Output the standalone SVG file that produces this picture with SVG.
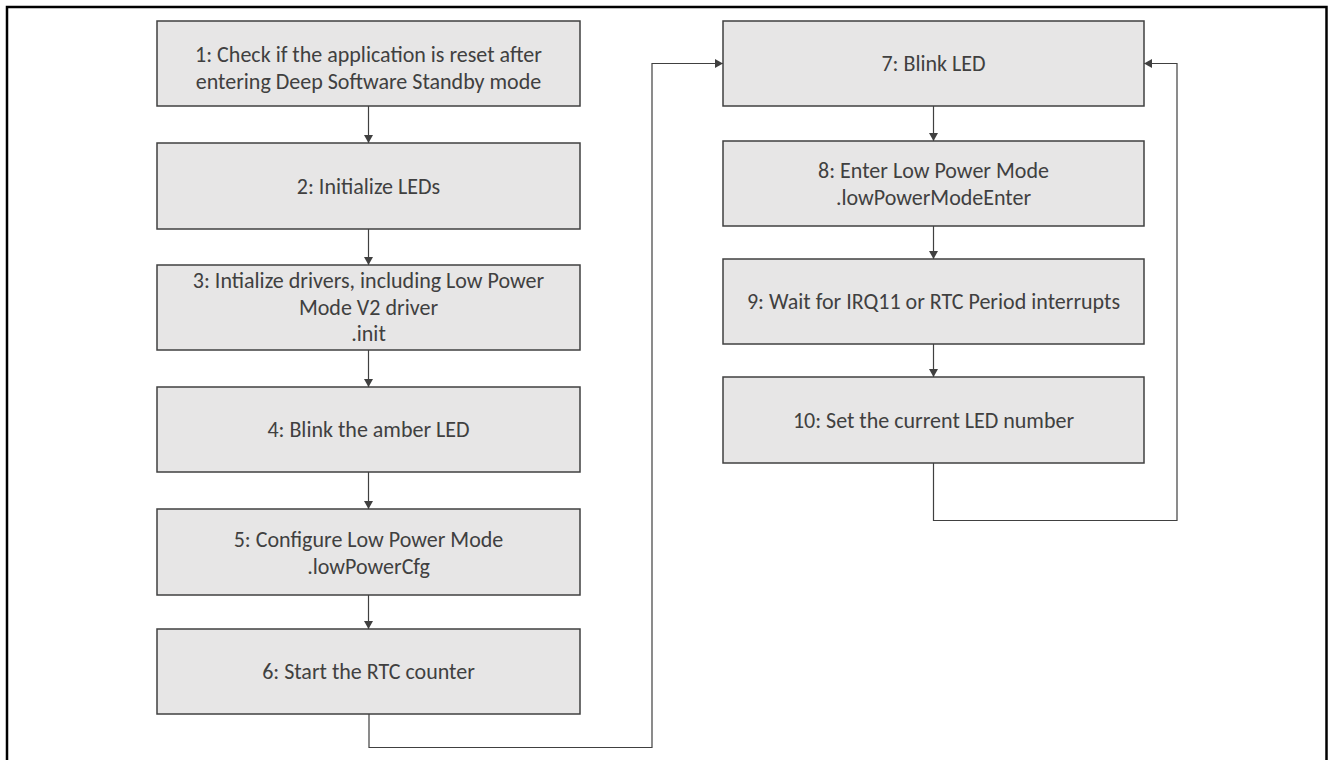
<svg xmlns="http://www.w3.org/2000/svg" width="1328" height="760" viewBox="0 0 1328 760">
<style>
.box{fill:#e7e6e6;stroke:#404040;stroke-width:1.5}
.t{font-family:Carlito,Calibri,Lato,"Liberation Sans",sans-serif;font-size:22px;fill:#404040;text-anchor:middle}
.c{fill:none;stroke:#404040;stroke-width:1.2}
</style>
<defs>
<marker id="ah" markerUnits="userSpaceOnUse" markerWidth="10" markerHeight="10" refX="8" refY="4.5" orient="auto">
<path d="M0,0 L8,4.5 L0,9 Z" fill="#404040"/>
</marker>
</defs>
<rect width="1328" height="760" fill="#ffffff"/>
<path d="M7,760 V7 H1326.5 V760" fill="none" stroke="#000" stroke-width="2.5"/>
<g id="connectors">
<path class="c" d="M368.5,106 V143" marker-end="url(#ah)"/>
<path class="c" d="M368.5,229 V265" marker-end="url(#ah)"/>
<path class="c" d="M368.5,350 V387" marker-end="url(#ah)"/>
<path class="c" d="M368.5,472 V509" marker-end="url(#ah)"/>
<path class="c" d="M368.5,595 V629" marker-end="url(#ah)"/>
<path class="c" d="M369,714 V747.5 H652 V63.5 H723" marker-end="url(#ah)"/>
<path class="c" d="M933.5,106 V141" marker-end="url(#ah)"/>
<path class="c" d="M933.5,226 V259" marker-end="url(#ah)"/>
<path class="c" d="M933.5,344 V377" marker-end="url(#ah)"/>
<path class="c" d="M933.5,463 V520.5 H1177 V63.5 H1144" marker-end="url(#ah)"/>
</g>
<g id="n1"><rect class="box" x="157" y="21" width="423" height="85"/><text class="t" x="368.5" y="62">1: Check if the application is reset after</text><text class="t" x="368.5" y="89">entering Deep Software Standby mode</text></g>
<g id="n2"><rect class="box" x="157" y="143" width="423" height="86"/><text class="t" x="368.5" y="194">2: Initialize LEDs</text></g>
<g id="n3"><rect class="box" x="157" y="265" width="423" height="85"/><text class="t" x="368.5" y="288">3: Intialize drivers, including Low Power</text><text class="t" x="368.5" y="315">Mode V2 driver</text><text class="t" x="368.5" y="341">.init</text></g>
<g id="n4"><rect class="box" x="157" y="387" width="423" height="85"/><text class="t" x="368.5" y="437">4: Blink the amber LED</text></g>
<g id="n5"><rect class="box" x="157" y="509" width="423" height="86"/><text class="t" x="368.5" y="547">5: Configure Low Power Mode</text><text class="t" x="368.5" y="574">.lowPowerCfg</text></g>
<g id="n6"><rect class="box" x="157" y="629" width="423" height="85"/><text class="t" x="368.5" y="679">6: Start the RTC counter</text></g>
<g id="n7"><rect class="box" x="723" y="21" width="421" height="85"/><text class="t" x="933.5" y="71">7: Blink LED</text></g>
<g id="n8"><rect class="box" x="723" y="141" width="421" height="85"/><text class="t" x="933.5" y="178">8: Enter Low Power Mode</text><text class="t" x="933.5" y="205">.lowPowerModeEnter</text></g>
<g id="n9"><rect class="box" x="723" y="259" width="421" height="85"/><text class="t" x="933.5" y="309">9: Wait for IRQ11 or RTC Period interrupts</text></g>
<g id="n10"><rect class="box" x="723" y="377" width="421" height="86"/><text class="t" x="933.5" y="428">10: Set the current LED number</text></g>
</svg>
